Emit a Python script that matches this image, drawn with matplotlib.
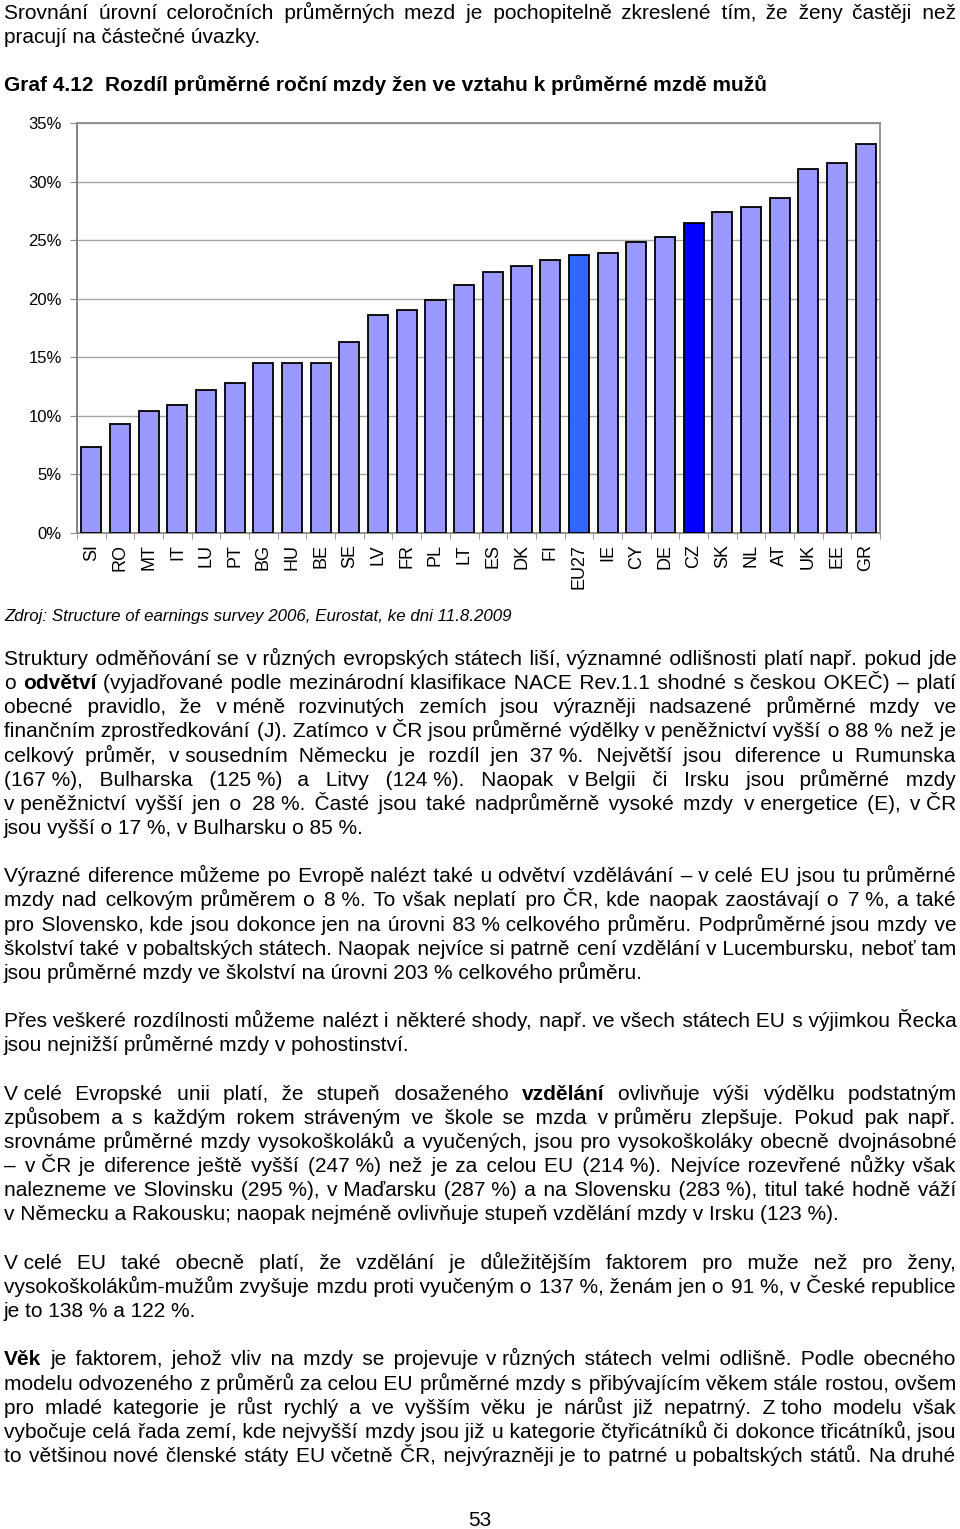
import re
import numpy as np
import matplotlib
matplotlib.use("Agg")
import matplotlib.pyplot as plt

# rozmery stranky v pixelech
W, H = 960, 1529
LEFT, RIGHT = 4, 956
LEAD = 24.15
FS = 15

# data grafu: rozdil prumerne mzdy zen vuci muzum (%)
countries = ["SI", "RO", "MT", "IT", "LU", "PT", "BG", "HU", "BE", "SE", "LV", "FR", "PL", "LT",
             "ES", "DK", "FI", "EU27", "IE", "CY", "DE", "CZ", "SK", "NL", "AT", "UK", "EE", "GR"]
gap_pct = [7.3, 9.3, 10.4, 10.9, 12.2, 12.8, 14.5, 14.5, 14.5, 16.3, 18.6, 19.0, 19.9, 21.2,
           22.3, 22.8, 23.3, 23.7, 23.9, 24.8, 25.3, 26.5, 27.4, 27.8, 28.6, 31.1, 31.6, 33.2]
y_ticks = [0, 5, 10, 15, 20, 25, 30, 35]

intro = [
    "Srovnání úrovní celoročních průměrných mezd je pochopitelně zkreslené tím, že ženy častěji než",
    "pracují na částečné úvazky.",
]
chart_title = "Graf 4.12  Rozdíl průměrné roční mzdy žen ve vztahu k průměrné mzdě mužů"
source = "Zdroj: Structure of earnings survey 2006, Eurostat, ke dni 11.8.2009"

paragraphs = [
    [
        "Struktury odměňování se v různých evropských státech liší, významné odlišnosti platí např. pokud jde",
        "o **odvětví** (vyjadřované podle mezinárodní klasifikace NACE Rev.1.1 shodné s českou OKEČ) – platí",
        "obecné pravidlo, že v méně rozvinutých zemích jsou výrazněji nadsazené průměrné mzdy ve",
        "finančním zprostředkování (J). Zatímco v ČR jsou průměrné výdělky v peněžnictví vyšší o 88 % než je",
        "celkový průměr, v sousedním Německu je rozdíl jen 37 %. Největší jsou diference u Rumunska",
        "(167 %), Bulharska (125 %) a Litvy (124 %). Naopak v Belgii či Irsku jsou průměrné mzdy",
        "v peněžnictví vyšší jen o 28 %. Časté jsou také nadprůměrně vysoké mzdy v energetice (E), v ČR",
        "jsou vyšší o 17 %, v Bulharsku o 85 %.",
    ],
    [
        "Výrazné diference můžeme po Evropě nalézt také u odvětví vzdělávání – v celé EU jsou tu průměrné",
        "mzdy nad celkovým průměrem o 8 %. To však neplatí pro ČR, kde naopak zaostávají o 7 %, a také",
        "pro Slovensko, kde jsou dokonce jen na úrovni 83 % celkového průměru. Podprůměrné jsou mzdy ve",
        "školství také v pobaltských státech. Naopak nejvíce si patrně cení vzdělání v Lucembursku, neboť tam",
        "jsou průměrné mzdy ve školství na úrovni 203 % celkového průměru.",
    ],
    [
        "Přes veškeré rozdílnosti můžeme nalézt i některé shody, např. ve všech státech EU s výjimkou Řecka",
        "jsou nejnižší průměrné mzdy v pohostinství.",
    ],
    [
        "V celé Evropské unii platí, že stupeň dosaženého **vzdělání** ovlivňuje výši výdělku podstatným",
        "způsobem a s každým rokem stráveným ve škole se mzda v průměru zlepšuje. Pokud pak např.",
        "srovnáme průměrné mzdy vysokoškoláků a vyučených, jsou pro vysokoškoláky obecně dvojnásobné",
        "– v ČR je diference ještě vyšší (247 %) než je za celou EU (214 %). Nejvíce rozevřené nůžky však",
        "nalezneme ve Slovinsku (295 %), v Maďarsku (287 %) a na Slovensku (283 %), titul také hodně váží",
        "v Německu a Rakousku; naopak nejméně ovlivňuje stupeň vzdělání mzdy v Irsku (123 %).",
    ],
    [
        "V celé EU také obecně platí, že vzdělání je důležitějším faktorem pro muže než pro ženy,",
        "vysokoškolákům-mužům zvyšuje mzdu proti vyučeným o 137 %, ženám jen o 91 %, v České republice",
        "je to 138 % a 122 %.",
    ],
    [
        "**Věk** je faktorem, jehož vliv na mzdy se projevuje v různých státech velmi odlišně. Podle obecného",
        "modelu odvozeného z průměrů za celou EU průměrné mzdy s přibývajícím věkem stále rostou, ovšem",
        "pro mladé kategorie je růst rychlý a ve vyšším věku je nárůst již nepatrný. Z toho modelu však",
        "vybočuje celá řada zemí, kde nejvyšší mzdy jsou již u kategorie čtyřicátníků či dokonce třicátníků, jsou",
        "to většinou nové členské státy EU včetně ČR, nejvýrazněji je to patrné u pobaltských států. Na druhé",
    ],
]
page_number = "53"

plt.rcParams["font.family"] = ["Liberation Sans", "DejaVu Sans"]

fig = plt.figure(figsize=(W / 100, H / 100), dpi=100)
renderer = fig.canvas.get_renderer()


def fy(y):
    return 1 - y / H


def measure(s, weight="normal", size=FS):
    t = fig.text(0, 0, s, fontsize=size, fontweight=weight)
    w = t.get_window_extent(renderer).width
    t.remove()
    return w


def nbsp(line):
    # nezlomitelne mezery za predlozkami v/z a pred znakem %
    line = re.sub(r"(^|(?<= ))([vVzZ]) ", "\\2\u00a0", line)
    line = re.sub(r"(\d) %", "\\1\u00a0%", line)
    return line


# sirky mezer pro zarovnani do bloku
SPACES = {}
for wt in ("normal", "bold"):
    base = measure("aa", wt)
    sp = measure("a a", wt) - base
    fine = None
    for ch in ("\u200a", "\u2009", "\u2006"):
        fw = measure("a" + ch + "a", wt) - base
        if fw > 0.5:
            fine = (ch, fw)
            break
    SPACES[wt] = (sp, fine)


def fill(g, wt):
    sp, fine = SPACES[wt]
    n = max(1, int(g // sp))
    rem = g - n * sp
    s = " " * n
    used = n * sp
    if fine is not None and rem > 0:
        m = int(round(rem / fine[1]))
        s += fine[0] * m
        used += m * fine[1]
    return s, g - used


def put_line(line, y, justify=True):
    tokens = []
    for w in nbsp(line).split(" "):
        bold = w.startswith("**")
        wt = "bold" if bold else "normal"
        tokens.append((w.replace("**", ""), wt, measure(w.replace("**", ""), wt)))
    total = sum(t[2] for t in tokens)
    gap = SPACES["normal"][0]
    if justify and len(tokens) > 1:
        gap = (RIGHT - LEFT - total) / (len(tokens) - 1)
    # useky se stejnou vahou pisma jako jeden text
    x = LEFT
    i = 0
    while i < len(tokens):
        wt = tokens[i][1]
        seg = tokens[i][0]
        seg_x = x
        x += tokens[i][2]
        carry = 0.0
        j = i + 1
        while j < len(tokens) and tokens[j][1] == wt:
            s, carry = fill(gap + carry, wt)
            seg += s + tokens[j][0]
            x += gap + tokens[j][2]
            j += 1
        fig.text(seg_x / W, fy(y), seg, fontsize=FS, fontweight=wt, va="baseline", ha="left")
        x += gap
        i = j


# uvodni odstavec a nadpis grafu
put_line(intro[0], 19, True)
put_line(intro[1], 19 + LEAD, False)
fig.text(LEFT / W, fy(91), chart_title, fontsize=FS, fontweight="bold", va="baseline", ha="left")

# graf
ax = fig.add_axes([77 / W, fy(533), (880 - 77) / W, (533 - 123) / H])
x = np.arange(len(countries))
colors = ["#9999FF"] * len(countries)
colors[countries.index("EU27")] = "#3366FF"
colors[countries.index("CZ")] = "#0000FF"
ax.bar(x, gap_pct, width=0.7, color=colors, edgecolor="black", linewidth=1.3, zorder=3)
ax.set_xlim(-0.5, len(countries) - 0.5)
ax.set_ylim(0, 35)
ax.set_yticks(y_ticks)
ax.set_yticklabels([f"{v}%" for v in y_ticks])
ax.yaxis.grid(True, color="#a6a6a6", linewidth=1.0, zorder=0)
ax.set_axisbelow(True)
for side, sp in ax.spines.items():
    sp.set_color("#8c8c8c")
    sp.set_linewidth(1.3)
ax.spines["left"].set_color("#7a7a7a")
ax.set_xticks(x)
ax.set_xticklabels(countries, rotation=90)
ax.set_xticks(np.arange(len(countries) + 1) - 0.5, minor=True)
ax.tick_params(axis="x", which="major", length=0, labelsize=13, pad=8, colors="black")
ax.tick_params(axis="x", which="minor", length=4, color="#8c8c8c")
ax.tick_params(axis="y", length=5, color="#8c8c8c", labelsize=12, pad=6)

fig.text(LEFT / W, fy(621), source, fontsize=12.2, fontstyle="italic", va="baseline", ha="left")

# textove odstavce
k = 0
for i, par in enumerate(paragraphs):
    for j, line in enumerate(par):
        last = j == len(par) - 1
        justify = (not last) or i == len(paragraphs) - 1
        put_line(line, 665 + LEAD * k, justify)
        k += 1
    k += 1

fig.text(480 / W, fy(1526), page_number, fontsize=FS, va="baseline", ha="center")

fig.savefig("out.png", dpi=100)
